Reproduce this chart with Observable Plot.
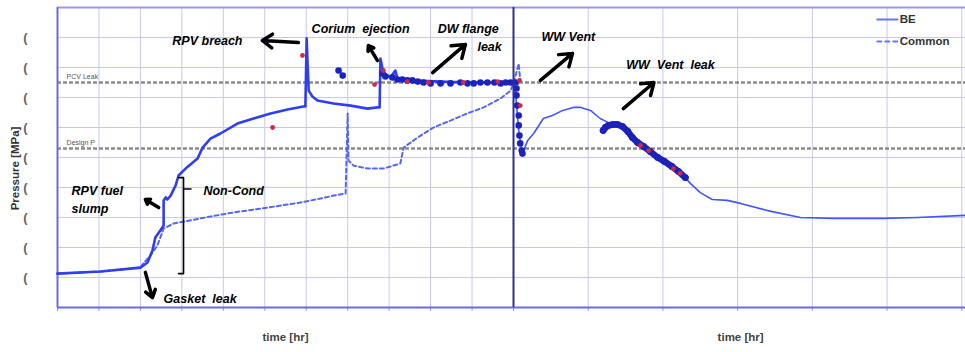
<!DOCTYPE html>
<html><head><meta charset="utf-8">
<script src="https://cdn.jsdelivr.net/npm/d3@7"></script>
<script src="https://cdn.jsdelivr.net/npm/@observablehq/plot@0.6"></script>
<style>
body{margin:0;background:#fff;}
#chart svg{display:block;}
</style></head><body><div id="chart"></div>
<script>
// BE (best estimate) pressure history, left panel t 0..11, right panel t 11..17
const beTime = [0,1.04,2.00,2.17,2.29,2.36,2.48,2.56,2.56,2.61,2.65,2.73,2.85,2.92,3.09,3.38,3.50,3.69,3.93,4.34,4.73,5.14,5.55,5.93,5.98,6.01,6.03,6.06,6.15,6.27,6.66,7.07,7.48,7.72,7.77,7.79,7.86,8.03,8.15,8.20,8.52,9.24,9.96,10.69,11.00,
  11.03,11.07,11.11,11.12,11.19,11.27,11.40,11.52,11.66,11.80,11.90,12.03,12.16,12.30,12.43,12.66,12.87,13.10,13.30,13.37,13.50,13.66,13.86,14.04,14.40,14.84,15.28,15.95,16.41,17.05];
const bePressure = [0.113,0.12,0.133,0.15,0.19,0.233,0.257,0.273,0.357,0.367,0.36,0.373,0.407,0.44,0.463,0.497,0.533,0.563,0.58,0.613,0.63,0.647,0.66,0.67,0.67,0.897,0.823,0.723,0.703,0.69,0.68,0.673,0.663,0.667,0.667,0.83,0.783,0.767,0.79,0.763,0.757,0.753,0.75,0.75,0.747,
  0.707,0.59,0.523,0.513,0.557,0.58,0.63,0.64,0.657,0.667,0.667,0.657,0.63,0.613,0.607,0.547,0.507,0.473,0.433,0.413,0.383,0.36,0.357,0.347,0.323,0.30,0.297,0.297,0.30,0.307];

// Common case
const commonTime = [0,1.04,2.00,2.07,2.24,2.41,2.56,2.80,3.45,4.25,5.07,5.86,6.34,6.66,6.95,7.00,7.02,7.14,7.48,7.86,8.27,8.35,8.69,9.07,9.48,9.89,10.28,10.69,10.93,11.00,11.07,11.09];
const commonPressure = [0.113,0.12,0.133,0.147,0.173,0.207,0.263,0.28,0.297,0.317,0.333,0.35,0.363,0.373,0.38,0.647,0.49,0.473,0.463,0.463,0.48,0.533,0.567,0.60,0.623,0.647,0.667,0.697,0.723,0.747,0.813,0.757];

// measured points (dark blue)
const measTime = [6.78,6.88,7.84,7.91,8.08,8.20,8.32,8.44,8.56,8.69,8.83,9.00,9.24,9.48,9.72,9.89,10.04,10.20,10.37,10.54,10.69,10.81,10.93,
  11.03,11.04,11.04,11.05,11.07,11.07,11.08,11.09,11.11,11.12];
const measPressure = [0.79,0.773,0.78,0.77,0.767,0.76,0.76,0.757,0.757,0.753,0.75,0.747,0.747,0.747,0.75,0.747,0.747,0.75,0.75,0.75,0.747,0.75,0.75,
  0.75,0.73,0.707,0.673,0.64,0.607,0.573,0.547,0.523,0.513];
// measured points during WW vent leak (dense band)
const ventTime = [12.20,12.23,12.27,12.33,12.39,12.46,12.53,12.59,12.66,12.74,12.83,12.93,13.02,13.12,13.21,13.30];
const ventPressure = [0.59,0.60,0.607,0.61,0.61,0.603,0.587,0.567,0.55,0.537,0.52,0.50,0.487,0.47,0.453,0.433];

// red points
const redTime = [5.91,5.19,7.65,7.86,8.44,8.95,9.79,10.62,11.08,11.09,12.70,12.81,13.14,13.23];
const redPressure = [0.84,0.60,0.743,0.79,0.753,0.75,0.75,0.753,0.757,0.673,0.54,0.523,0.463,0.447];

// reference levels
const refNames = ["PCV Leak","Design P"];
const refValues = [0.75,0.53];

// y ticks (labels are cut off in the original)
const yTicks = [0.1,0.2,0.3,0.4,0.5,0.6,0.7,0.8,0.9];
const xGridLeft = [0,1,2,3,4,5,6,7,8,9,10,11];
const xGridRight = [12,13,14,15,16,17];

// annotations
const annText = ["RPV breach","Corium  ejection","DW flange","leak","WW Vent","WW  Vent  leak","RPV fuel","slump","Non-Cond","Gasket  leak"];
const annT = [2.77,6.13,9.17,10.13,11.375,12.51,0.34,0.34,3.52,2.56];
const annP = [0.89,0.93,0.93,0.87,0.903,0.81,0.387,0.33,0.387,0.03];
const arrowT1 = [5.81,7.72,9.05,11.36,12.47,2.44,2.12];
const arrowP1 = [0.883,0.823,0.783,0.757,0.663,0.333,0.117];
const arrowT2 = [4.94,7.50,9.84,11.79,12.88,2.12,2.29];
const arrowP2 = [0.89,0.873,0.877,0.847,0.75,0.36,0.033];
const bracketT = [2.92,3.04,3.04,2.92];
const bracketP = [0.433,0.433,0.113,0.113];
const nubT = [3.04,3.22];
const nubP = [0.395,0.395];

// legend
const legendNames = ["BE","Common"];
const legendT = [15.87,16.14];
const legendP = [0.96,0.887];

const be = beTime.map((t,i)=>({t, p: bePressure[i]}));
const common = commonTime.map((t,i)=>({t, p: commonPressure[i]}));
const meas = measTime.map((t,i)=>({t, p: measPressure[i]}));
const vent = ventTime.map((t,i)=>({t, p: ventPressure[i]}));
const red = redTime.map((t,i)=>({t, p: redPressure[i]}));
const refs = refNames.map((n,i)=>({n, p: refValues[i]}));
const ann = annText.map((s,i)=>({s, t: annT[i], p: annP[i]}));
const arrows = arrowT1.map((t,i)=>({t1:t, p1:arrowP1[i], t2:arrowT2[i], p2:arrowP2[i]}));
const bracket = bracketT.map((t,i)=>({t, p: bracketP[i]}));
const nub = nubT.map((t,i)=>({t, p: nubP[i]}));

const font = "'Liberation Sans', Arial, sans-serif";

const chart = Plot.plot({
  width: 965, height: 352,
  marginLeft: 57, marginRight: 0, marginTop: 7, marginBottom: 45,
  style: {fontFamily: font, background: "#fff"},
  x: {type: "linear", domain: [0, 11, 17.05], range: [57, 513, 965]},
  y: {domain: [0, 1]},
  marks: [
    Plot.gridY(yTicks, {stroke: "#c8c8ee", strokeOpacity: 1, strokeWidth: 1}),
    Plot.gridX(xGridLeft.concat(xGridRight), {stroke: "#c8c8ee", strokeOpacity: 1, strokeWidth: 1}),
    Plot.axisY(yTicks, {tickFormat: () => "(", tickSize: 0, tickPadding: 30, label: null, fontSize: 13, fontWeight: "bold", color: "#666"}),
    Plot.axisX(xGridLeft.concat(xGridRight), {tickFormat: () => "", tickSize: 4, label: null, stroke: "#9a9ade"}),
    Plot.ruleY(refs, {y: "p", stroke: "#8a8a8a", strokeWidth: 2.5, strokeDasharray: "4,2"}),
    Plot.text(refs, {x: () => 0.22, y: "p", dy: -6, text: "n", fontSize: 7, fill: "#555", textAnchor: "start"}),
    Plot.ruleY([0], {stroke: "#6a6ae2", strokeWidth: 2}),
    Plot.ruleY([1], {stroke: "#9a9ae8", strokeWidth: 2}),
    Plot.ruleX([0], {stroke: "#6a6ae2", strokeWidth: 2}),
    Plot.line(common, {x: "t", y: "p", stroke: "#5566f0", strokeWidth: 2, strokeDasharray: "4,3"}),
    Plot.line(be.filter(d => d.t <= 11), {x: "t", y: "p", stroke: "#2f3ff0", strokeWidth: 2.6}),
    Plot.line(be.filter(d => d.t >= 11), {x: "t", y: "p", stroke: "#4455ff", strokeWidth: 1.6}),
    Plot.dot(meas, {x: "t", y: "p", r: 3.3, fill: "#1c22c0", stroke: "none"}),
    Plot.line(vent, {x: "t", y: "p", stroke: "#1c22b8", strokeWidth: 6.5, strokeLinecap: "round"}),
    Plot.dot(vent, {x: "t", y: "p", r: 3.4, fill: "#1c22b8", stroke: "none"}),
    Plot.dot(red, {x: "t", y: "p", r: 2.4, fill: "#d0284a", stroke: "none"}),
    Plot.ruleX([11], {stroke: "#2e2e96", strokeWidth: 2}),
    Plot.arrow(arrows, {x1: "t1", y1: "p1", x2: "t2", y2: "p2", stroke: "#000", strokeWidth: 3.5, headLength: 11, headAngle: 70}),
    Plot.line(bracket, {x: "t", y: "p", stroke: "#000", strokeWidth: 1.6}),
    Plot.line(nub, {x: "t", y: "p", stroke: "#000", strokeWidth: 1.6}),
    Plot.text(ann, {x: "t", y: "p", text: "s", textAnchor: "start", fontSize: 12.5, fontWeight: "bold", fontStyle: "italic", fill: "#000"}),
    Plot.line([{t: legendT[0], p: legendP[0]}, {t: legendT[1], p: legendP[0]}], {x: "t", y: "p", stroke: "#6a74f0", strokeWidth: 2}),
    Plot.line([{t: legendT[0], p: legendP[1]}, {t: legendT[1], p: legendP[1]}], {x: "t", y: "p", stroke: "#6a74f0", strokeWidth: 2, strokeDasharray: "4,4"}),
    Plot.text(legendNames, {x: () => legendT[1] + 0.03, y: (d, i) => legendP[i], text: d => d, textAnchor: "start", fontSize: 11.5, fontWeight: "bold", fill: "#333"}),
    Plot.text(["time [hr]", "time [hr]"], {x: (d, i) => [5.5, 14.04][i], frameAnchor: "bottom", dy: 33, text: d => d, fontSize: 11.5, fontWeight: "bold", fill: "#444"}),
    Plot.text(["Pressure [MPa]"], {frameAnchor: "left", textAnchor: "middle", dx: -42, dy: 11, rotate: -90, text: d => d, fontSize: 11.5, fontWeight: "bold", fill: "#333"})
  ]
});
document.getElementById("chart").appendChild(chart);
</script>
</body></html>
